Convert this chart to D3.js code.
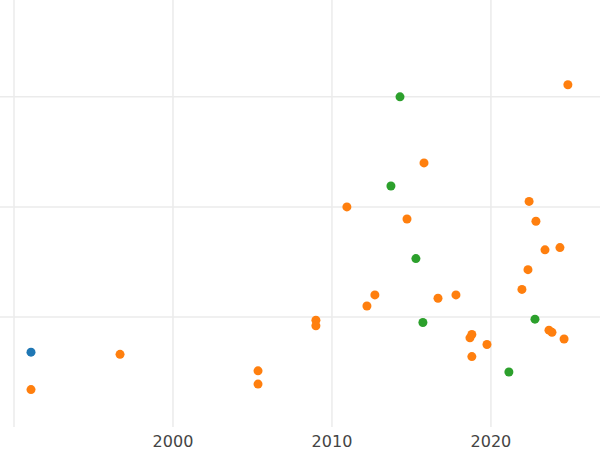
<!DOCTYPE html>
<html><head><meta charset="utf-8">
<script src="https://cdn.jsdelivr.net/npm/d3@7"></script>
<style>body{margin:0;background:#fff}</style></head>
<body><svg id="chart" width="600" height="450"></svg>
<script>
const blueYears = [1991.07]
const blueValues = [0.68]
const orangeYears = [1991.07, 1996.67, 2005.35, 2005.35, 2008.99, 2008.99, 2010.94, 2012.2, 2012.7, 2014.72, 2015.79, 2016.67, 2017.8, 2018.68, 2018.8, 2018.8, 2019.75, 2021.95, 2022.33, 2022.4, 2022.83, 2023.4, 2023.65, 2023.84, 2024.34, 2024.6, 2024.84]
const orangeValues = [0.34, 0.66, 0.51, 0.39, 0.97, 0.92, 2.0, 1.10, 1.20, 1.89, 2.40, 1.17, 1.20, 0.81, 0.84, 0.64, 0.75, 1.25, 1.43, 2.05, 1.87, 1.61, 0.88, 0.86, 1.63, 0.80, 3.11]
const greenYears = [2014.28, 2013.71, 2015.28, 2015.72, 2022.77, 2021.13]
const greenValues = [3.0, 2.19, 1.53, 0.95, 0.98, 0.50]
const xTicks = [1990, 2000, 2010, 2020]
const yTicks = [1, 2, 3]

const series = [
  {color: '#1f77b4', xs: blueYears, ys: blueValues},
  {color: '#ff7f0e', xs: orangeYears, ys: orangeValues},
  {color: '#2ca02c', xs: greenYears, ys: greenValues}
]

const svg = d3.select('#chart')
let x = d3.scaleLinear().domain([1989.12, 2026.86]).range([0, 600])
let y = d3.scaleLinear().domain([0, 3.88]).range([427, 0])

svg.append('g').selectAll('line').data(yTicks).enter().append('line')
  .attr('x1', 0).attr('x2', 600)
  .attr('y1', d => y(d)).attr('y2', d => y(d))
  .attr('stroke', '#ebebeb').attr('stroke-width', 1.5)

svg.append('g').selectAll('line').data(xTicks).enter().append('line')
  .attr('x1', d => x(d)).attr('x2', d => x(d))
  .attr('y1', 0).attr('y2', 427)
  .attr('stroke', '#ebebeb').attr('stroke-width', 1.5)

svg.append('g').selectAll('text').data(xTicks.slice(1)).enter().append('text')
  .attr('x', d => x(d)).attr('y', 447)
  .attr('text-anchor', 'middle')
  .attr('font-family', 'DejaVu Sans, sans-serif').attr('font-size', 16)
  .attr('fill', '#444')
  .text(d => d)

series.forEach(s => {
  svg.append('g').selectAll('circle').data(s.xs).enter().append('circle')
    .attr('cx', d => x(d))
    .attr('cy', (d, i) => y(s.ys[i]))
    .attr('r', 4.5)
    .attr('fill', s.color)
})
</script></body></html>
